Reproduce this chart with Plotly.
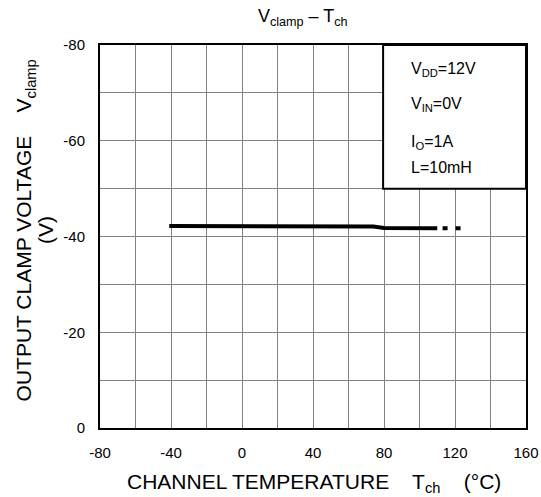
import plotly.graph_objects as go

# Data
temp_solid = [-41, 0, 40, 74, 80, 110]
vclamp_solid = [-42.2, -42.2, -42.2, -42.1, -41.8, -41.7]
temp_dash = [113, 125]
vclamp_dash = [-41.7, -41.7]

x_ticks = [-80, -40, 0, 40, 80, 120, 160]
y_ticks = [0, -20, -40, -60, -80]

conditions = ["V<sub>DD</sub>=12V", "V<sub>IN</sub>=0V", "I<sub>O</sub>=1A", "L=10mH"]
cond_y = [-74.8, -67.6, -59.6, -54.4]

FONT = "Liberation Sans, Arial, sans-serif"

fig = go.Figure()
fig.add_trace(go.Scatter(x=temp_solid, y=vclamp_solid, mode="lines",
                         line=dict(color="black", width=4), showlegend=False))
fig.add_trace(go.Scatter(x=temp_dash, y=vclamp_dash, mode="lines",
                         line=dict(color="black", width=4, dash="5px,8px"), showlegend=False))

# condition box
fig.add_shape(type="rect", x0=79.5, x1=160, y0=-80, y1=-50, xref="x", yref="y",
              line=dict(color="black", width=2), fillcolor="white", layer="above")
for t, yy in zip(conditions, cond_y):
    fig.add_annotation(x=94, y=yy, xref="x", yref="y", text=t, showarrow=False,
                       xanchor="left", yanchor="middle", font=dict(size=16, color="black", family=FONT))

fig.add_annotation(x=-0.175, y=0.517, xref="paper", yref="paper", textangle=-90,
                   text="OUTPUT CLAMP VOLTAGE    V<sub>clamp</sub>", showarrow=False,
                   xanchor="center", yanchor="middle",
                   font=dict(size=21, color="black", family=FONT))
fig.add_annotation(x=-0.127, y=0.517, xref="paper", yref="paper", textangle=-90,
                   text="(V)", showarrow=False, xanchor="center", yanchor="middle",
                   font=dict(size=21, color="black", family=FONT))
fig.add_annotation(x=0.502, y=-0.1436, xref="paper", yref="paper",
                   text="CHANNEL TEMPERATURE    T<sub>ch</sub>    (°C)", showarrow=False,
                   xanchor="center", yanchor="middle",
                   font=dict(size=21, color="black", family=FONT))
fig.add_annotation(x=0.4765, y=1.073, xref="paper", yref="paper",
                   text="V<sub>clamp</sub> – T<sub>ch</sub>", showarrow=False,
                   xanchor="center", yanchor="middle",
                   font=dict(size=18, color="black", family=FONT))

fig.update_layout(
    width=541, height=497,
    margin=dict(l=100, r=15, t=45, b=69),
    paper_bgcolor="white", plot_bgcolor="white",
    font=dict(family=FONT, color="black", size=15),
    hovermode=False,
    xaxis=dict(range=[-80, 160], tickvals=x_ticks, ticktext=[str(v) for v in x_ticks],
               showgrid=True, gridcolor="#808080", gridwidth=1,
               minor=dict(dtick=20, tick0=-80, showgrid=True, gridcolor="#808080", gridwidth=1),
               showline=True, linecolor="black", linewidth=2, mirror=True,
               ticks="", zeroline=False, ticklabelstandoff=10, automargin=False),
    yaxis=dict(range=[0, -80], tickvals=y_ticks, ticktext=[str(v) for v in y_ticks],
               showgrid=True, gridcolor="#808080", gridwidth=1,
               minor=dict(dtick=10, tick0=0, showgrid=True, gridcolor="#808080", gridwidth=1),
               showline=True, linecolor="black", linewidth=2, mirror=True,
               ticks="", zeroline=False, ticklabelstandoff=10, automargin=False),
)

fig.write_html(
    "out.html",
    config={"displayModeBar": False},
    post_script="document.body.style.margin='0';document.documentElement.style.overflow='hidden';",
)
